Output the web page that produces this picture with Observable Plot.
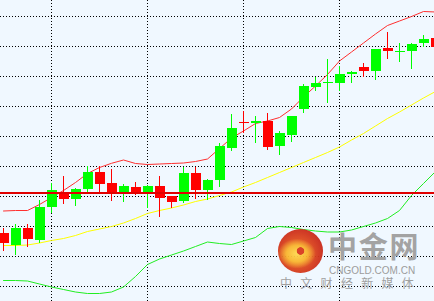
<!DOCTYPE html>
<html>
<head>
<meta charset="utf-8">
<script src="https://cdn.jsdelivr.net/npm/d3@7"></script>
<script src="https://cdn.jsdelivr.net/npm/@observablehq/plot@0.6"></script>
<style>
  html, body { margin: 0; padding: 0; background: #f0f8ff; }
  #wrap { position: relative; width: 434px; height: 301px; overflow: hidden; }
  #wrap svg { display: block; }
  .wm { position: absolute; pointer-events: none; white-space: nowrap; }
  #logo { left: 278px; top: 229px; width: 45px; height: 44px; border-radius: 50%;
    background:
      radial-gradient(circle at 50% 50%, #d9391d 0 11%, rgba(217,57,29,0) 13%),
      radial-gradient(ellipse 42% 34% at 42% 56%, #ffd94f 0%, #f9b52e 55%, rgba(240,130,35,0) 100%),
      radial-gradient(circle at 45% 55%, #f07a26 0%, #de4a1e 40%, #c8261a 75%, #b91f17 100%);
    opacity: 0.95; }
  #wm1 { left: 328px; top: 234px; font: bold 29px/29px "Liberation Sans", "Noto Sans CJK SC", sans-serif; color: #a3a3a3; letter-spacing: 1.7px; }
  #wm2 { left: 329px; top: 266.3px; font: 10px/10px "Liberation Sans", Arial, sans-serif; color: #9c9c9c; }
  #wm3 { left: 280px; top: 277.9px; font: 12px/12px "Liberation Sans", "Noto Sans CJK SC", sans-serif; color: #a0a0a0; letter-spacing: 8.3px; }
</style>
</head>
<body>
<div id="wrap"></div>
<script>
// Candle index (time slot), values in chart price units
const idx = d3.range(37);
const opens  = [53,41,58,46,79,94,87,97,114,103,94,99,93,100,90,85,113,96,106,138,164,163,165,140,151,177,199,203,203,212,219,215,238,234,235,243,248];
const closes = [43,58,47,79,96,87,97,114,102,93,100,93,100,88,84,113,96,106,140,158,163,165,139,153,170,200,203,204,212,214,215,237,235,235,242,247,239];
const highs  = [58,62,62,86,103,110,98,120,120,117,102,104,101,110,90,119,119,107,143,172,175,170,173,155,170,202,209,227,220,215,223,237,254,243,243,251,251];
const lows   = [35,31,39,43,73,82,80,94,93,85,84,91,78,69,78,83,87,86,99,135,153,143,136,131,144,173,195,183,195,203,209,206,227,224,217,239,237];

// Bollinger bands (upper / middle / lower)
const upper  = [75.5,76,76,82,89,96,104,113,119,123.2,126.5,123,122,122.5,123,123.5,125,127.5,138,148.5,155.5,163,165.5,169,177.5,189.5,200.5,212,225.5,234.5,243.5,252.5,261,265.5,270,275,274.5];
const middle = [41,41,41.5,43.5,46,48,51,55,57.5,60,63.5,68,73,76,78.5,81.5,85,87.5,91,94.5,99.5,104,109,114,119,124,129,134,139.5,146.5,153,160.5,168,174.5,181.5,188.5,195];
const lower  = [6,6,5.5,2.5,-0.5,-3,-5.5,-7,-7,-5.5,-0.5,10,22,27.5,31.5,35.5,40,44.5,43,42,45.5,49,58,60,59,57,55.5,54.5,54.5,56.5,60,63.5,68,76,91,103,115];

// Horizontal reference level and grid positions
const level = [93.5];
const yGrid = [0,30,60,90,120,150,180,210,240,270];
const xGrid = [4,12,20,28];

const candles = idx.map(i => ({i, open: opens[i], close: closes[i], high: highs[i], low: lows[i]}));
const colorOf = d => d.close >= d.open ? "#00ff00" : "#ff0000";

const chart = Plot.plot({
  width: 434,
  height: 301,
  margin: 0,
  style: {background: "#f0f8ff"},
  x: {domain: [-0.25, 431 / 12], axis: null},
  y: {domain: [-15, 286], axis: null},
  marks: [
    Plot.ruleY(yGrid, {stroke: "#000", strokeWidth: 1, strokeDasharray: "1,2"}),
    Plot.ruleX(xGrid, {stroke: "#000", strokeWidth: 1, strokeDasharray: "1,2"}),
    Plot.line(idx, {x: i => i, y: i => middle[i], stroke: "#ffff00", strokeWidth: 1}),
    Plot.line(idx, {x: i => i, y: i => lower[i], stroke: "#22ee22", strokeWidth: 1}),
    Plot.line(idx, {x: i => i, y: i => upper[i], stroke: "#ff3030", strokeWidth: 1}),
    Plot.ruleX(candles, {x: "i", y1: "low", y2: "high", stroke: colorOf, strokeWidth: 1}),
    Plot.ruleX(candles, {x: "i", y1: "open", y2: "close", stroke: colorOf, strokeWidth: 10, dx: 0.5}),
    Plot.ruleY(level, {stroke: "#e00000", strokeWidth: 2})
  ]
});

const wrap = document.getElementById("wrap");
wrap.appendChild(chart);
wrap.insertAdjacentHTML("beforeend",
  '<div id="logo" class="wm"></div>' +
  '<div id="wm1" class="wm">中金网</div>' +
  '<div id="wm2" class="wm">CNGOLD.COM.CN</div>' +
  '<div id="wm3" class="wm">中文财经新媒体</div>');
</script>
</body>
</html>
